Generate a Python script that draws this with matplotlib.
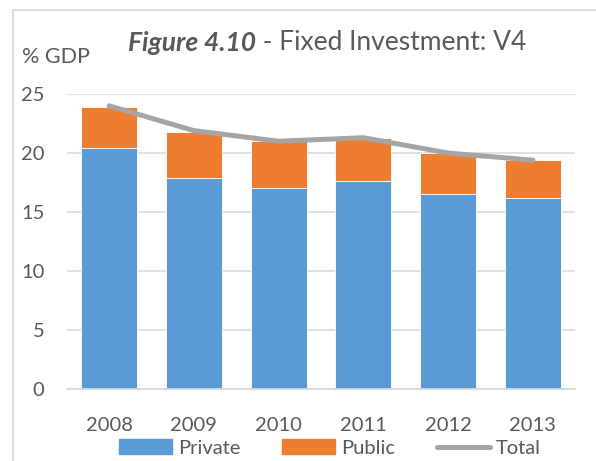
import numpy as np
import matplotlib.pyplot as plt
from matplotlib.lines import Line2D
from matplotlib.patches import Patch

plt.rcParams['font.family'] = ['Lato', 'DejaVu Sans']

# Datos (% del PIB)
years   = ['2008', '2009', '2010', '2011', '2012', '2013']
private = [20.4, 17.9, 17.0, 17.6, 16.5, 16.2]
public  = [3.5, 3.9, 4.0, 3.7, 3.5, 3.2]
total   = [24.0, 21.9, 21.0, 21.3, 20.0, 19.4]

blue   = '#5B9BD5'
orange = '#ED7D31'
gray   = '#A5A5A5'
txt    = '#595959'
grid   = '#D9D9D9'

W, H = 596, 461
fig = plt.figure(figsize=(W/100, H/100), dpi=100)
ax  = fig.add_axes([66.7/W, 1 - 389.3/H, (575.3 - 66.7)/W, (389.3 - 94)/H])

x = np.arange(len(years))
ax.bar(x, private, width=0.66, color=blue, edgecolor='white', linewidth=0.6, zorder=2)
ax.bar(x, public, width=0.66, bottom=private, color=orange, edgecolor='white', linewidth=0.6, zorder=2)
ax.plot(x, total, color=gray, lw=3.6, solid_capstyle='round', solid_joinstyle='round', zorder=3)

ax.set_xlim(-0.5, len(years) - 0.5)
ax.set_ylim(0, 25)
ax.set_yticks(range(0, 26, 5))
ax.set_xticks(x, years)
ax.yaxis.grid(True, color=grid, lw=1.1)
ax.set_axisbelow(True)
for s in ['top', 'right', 'left']:
    ax.spines[s].set_visible(False)
ax.spines['bottom'].set_color(grid)
ax.spines['bottom'].set_linewidth(1.3)
ax.tick_params(axis='y', length=0, pad=16, labelsize=14.5, labelcolor=txt)
ax.tick_params(axis='x', length=0, pad=20, labelsize=14.5, labelcolor=txt)

# Titulo y etiqueta del eje
t1 = fig.text(128/W, 1 - 43/H, 'Figure 4.10', fontsize=19, fontweight='bold',
              fontstyle='italic', color=txt, va='center', ha='left')
ax.annotate(' - Fixed Investment: V4', xy=(1, 0), xycoords=t1, va='bottom', ha='left',
            fontsize=19, color=txt)
fig.text(21.7/W, 1 - 56.7/H, '% GDP', fontsize=15.5, color=txt, va='center', ha='left')

# Marco
yb = 1 - 10/H
fig.add_artist(Line2D([13/W, 1], [yb, yb], color=grid, lw=1.3))
fig.add_artist(Line2D([13/W, 13/W], [0, yb], color=grid, lw=1.3))

handles = [Patch(color=blue, label='Private'),
           Patch(color=orange, label='Public'),
           Line2D([], [], color=gray, lw=3.6, solid_capstyle='round', label='Total')]
fig.legend(handles=handles, loc='center', bbox_to_anchor=(330/W, 1 - 448/H), ncol=3,
           frameon=False, fontsize=14.5, handlelength=2.6, handleheight=0.7,
           handletextpad=0.3, columnspacing=2.1, labelcolor=txt, borderpad=0)

fig.savefig('out.png', dpi=100)
